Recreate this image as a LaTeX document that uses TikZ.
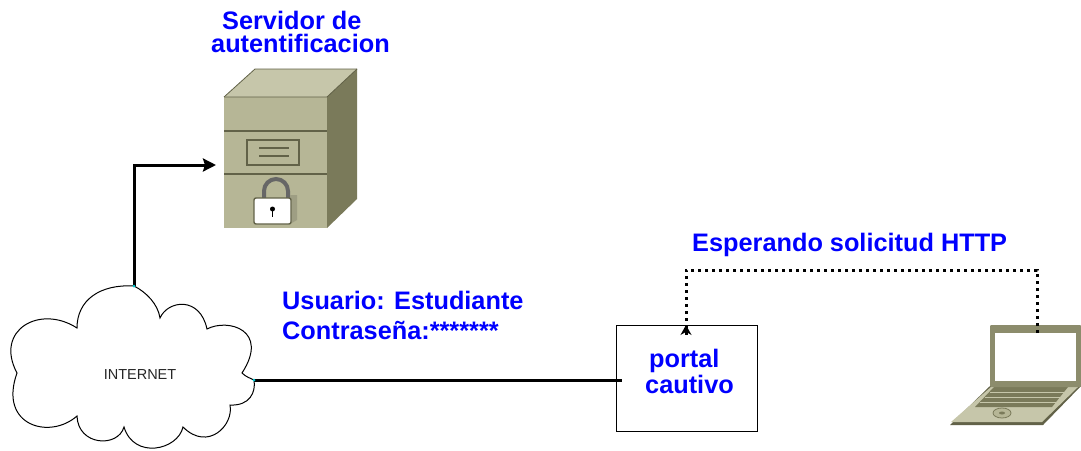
\documentclass[tikz,border=0pt]{standalone}
\usepackage{fontspec}
\setmainfont{Liberation Sans}
\usetikzlibrary{arrows.meta}
\definecolor{caseside}{RGB}{122,122,90}
\definecolor{casefront}{RGB}{182,182,150}
\definecolor{casetop}{RGB}{198,198,170}
\definecolor{caseline}{RGB}{98,98,72}
\definecolor{labelblue}{RGB}{0,0,255}
\definecolor{portcolor}{RGB}{0,200,210}
\tikzset{
	bluelabel/.style={text=labelblue,font=\fontsize{25.300}{27}\selectfont\bfseries,align=left,inner sep=0pt},
	wire/.style={line width=3pt},
	dotwire/.style={line width=3pt,dash pattern=on 3pt off 4pt},
}
\begin{document}
\begin{tikzpicture}[x=1pt,y=-1pt]
\useasboundingbox (0,0) rectangle (1081,450);
% cloud
\begin{scope}
\clip (0,0) rectangle (1081,450);
\draw[line width=1pt,fill=white] (77,328) .. controls (77,300) and (100,284) .. (134,286)
	.. controls (146,292) and (158,304) .. (160,318)
	.. controls (168,300) and (200,296) .. (207,329)
	.. controls (228,318) and (270,330) .. (242,373)
	.. controls (246,377) and (250,378) .. (254,380)
	.. controls (256,392) and (250,406) .. (230,405)
	.. controls (234,425) and (208,452) .. (183,427)
	.. controls (178,450) and (134,460) .. (124,427)
	.. controls (118,448) and (78,446) .. (77,416)
	.. controls (50,440) and (-2,426) .. (17,373)
	.. controls (-6,330) and (40,304) .. (77,328) -- cycle;
\end{scope}
\node[font=\fontsize{14.5}{16}\selectfont,text=black!85] (internet) at (140,375) {INTERNET};
\coordinate (cloudtop) at (134,286);
\coordinate (cloudright) at (254,380);
% server
\coordinate (serverin) at (216,165);
\fill[casetop] (224,97) -- (255,69) -- (357,69) -- (327,97) -- cycle;
\draw[caseline,line width=.8pt] (224,97) -- (255,69) -- (357,69);
\fill[caseside] (327,97) -- (357,69) -- (357,199) -- (327,228) -- cycle;
\fill[casefront] (224,97) rectangle (327,228);
\draw[caseline,line width=.8pt] (224,97) -- (327,97) -- (357,69);
\foreach \y in {131,174}{
	\draw[caseline,line width=2pt] (224,\y) -- (327,\y);}
\draw[caseline,line width=2pt] (247,140) rectangle (299,165);
\foreach \y in {148,156}{
	\draw[caseline,line width=1.4pt] (259,\y) -- (289,\y);}
% lock
\draw[gray!80!black,line width=4pt] (264,198) -- (264,191) arc (180:0:12 and -12) -- (288,198);
\fill[casetop!60!caseline] (290,195) -- (297,195) -- (297,220) -- (290,224) -- cycle;
\draw[caseline,fill=white,line width=1.4pt,rounded corners=2pt] (254,198) rectangle (291,224);
\fill[black] (272.500,209) circle (2.5);
\draw[black,line width=1.4pt] (272.500,209) -- (272.500,217);
% portal
\node[draw,line width=1pt,minimum width=141pt,minimum height=106pt,anchor=north west,inner sep=0pt] (portal) at (616,325) {};
\coordinate (portalin) at (622,380);
\node[bluelabel,anchor=north west] (portaltxt) at (649,349) {portal\\[-1pt]\hspace*{-4pt}cautivo};
% laptop
\fill[caseline] (950,425) -- (1043,425) -- (1081,386) -- (990,386) -- cycle;
\fill[casetop] (951,422) -- (1042,422) -- (1078,387) -- (991,387) -- cycle;
\fill[caseside] (975,407) -- (1052,407) -- (1068,387) -- (994,387) -- cycle;
\foreach \y/\xa/\xb in {392/990/1064,397/985/1060,402/980/1056}{
	\draw[casetop,line width=1pt] (\xa,\y) -- (\xb,\y);}
\draw[caseside,fill=casefront,line width=.8pt] (1002,413) ellipse (9 and 5);
\fill[caseside] (1002,413) ellipse (3 and 1.500);
\fill[caseside!70!casefront,rounded corners=1pt] (990,387) rectangle (1081,325);
\fill[white] (995,333) rectangle (1076,381);
\coordinate (laptopout) at (1037,333);
% connectors
\coordinate (bend1) at (134,165);
\coordinate (bend2) at (1037,270);
\coordinate (bend3) at (686,270);
\draw[wire,-{Stealth[length=13pt,width=13pt,inset=2pt]}] (cloudtop) -- (bend1) -- (serverin);
\draw[wire] (cloudright) -- (portalin);
\draw[dotwire] (laptopout) -- (bend2) -- (bend3) -- ([yshift=-10pt]portal.north west -| bend3);
\draw[line width=1pt,-{Stealth[length=10pt,width=11pt]}] ([yshift=-10pt]portal.north west -| bend3) -- (portal.north west -| bend3);
\fill[portcolor] (cloudtop) circle (1.500);
\fill[portcolor] (cloudright) circle (1.500);
% labels
\node[bluelabel,anchor=north west] (servertxt) at (222,11) {Servidor de\\[-4pt]\hspace*{-11pt}autentificacion};
\node[bluelabel,anchor=west] (waittxt) at (692,245) {Esperando solicitud HTTP};
\node[bluelabel,anchor=north west] (usertxt) at (282,291) {Usuario: Estudiante\\[3pt]Contraseña:*******};
\end{tikzpicture}
\end{document}
